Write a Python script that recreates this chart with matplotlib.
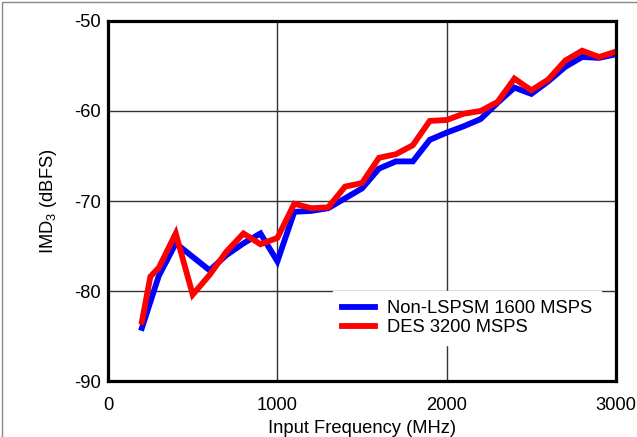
import matplotlib
matplotlib.use("Agg")
import matplotlib.pyplot as plt
from matplotlib.patches import Rectangle

plt.rcParams['font.family'] = ['Liberation Sans', 'DejaVu Sans']
plt.rcParams['mathtext.fontset'] = 'custom'
plt.rcParams['mathtext.rm'] = 'Liberation Sans'
plt.rcParams['mathtext.it'] = 'Liberation Sans:italic'
plt.rcParams['axes.unicode_minus'] = False

# Non-LSPSM 1600 MSPS
freq_blue = [200, 300, 400, 500, 600, 700, 800, 900, 1000, 1100, 1200, 1300, 1400, 1500,
             1600, 1700, 1800, 1900, 2000, 2100, 2200, 2300, 2400, 2500, 2600, 2700, 2800,
             2900, 3000]
imd_blue = [-84.1, -78.3, -74.7, -76.2, -77.7, -76.0, -74.7, -73.6, -76.7, -71.2, -71.1,
            -70.8, -69.7, -68.6, -66.4, -65.6, -65.6, -63.2, -62.4, -61.7, -60.9, -59.1,
            -57.4, -58.1, -56.7, -55.1, -54.0, -54.1, -53.7]

# DES 3200 MSPS
freq_red = [200, 250, 300, 400, 500, 600, 700, 800, 900, 1000, 1100, 1200, 1300, 1400, 1500,
            1600, 1700, 1800, 1900, 2000, 2100, 2200, 2300, 2400, 2500, 2600, 2700, 2800,
            2900, 3000]
imd_red = [-83.4, -78.4, -77.4, -73.6, -80.4, -78.2, -75.6, -73.6, -74.8, -74.1, -70.3,
           -70.8, -70.7, -68.4, -68.0, -65.2, -64.8, -63.8, -61.1, -61.0, -60.3, -60.0,
           -59.0, -56.4, -57.7, -56.5, -54.4, -53.3, -54.0, -53.4]

labels = ["Non-LSPSM 1600 MSPS", "DES 3200 MSPS"]
xticks = [0, 1000, 2000, 3000]
yticks = [-90, -80, -70, -60, -50]

fs = 13.2

fig = plt.figure(figsize=(6.37, 4.37), dpi=100)
ax = fig.add_axes([0.1696, 0.128, 0.7975, 0.824])

ax.plot(freq_blue, imd_blue, color='#0000ff', lw=4.2, solid_joinstyle='miter', label=labels[0])
ax.plot(freq_red, imd_red, color='#ff0000', lw=4.2, solid_joinstyle='miter', label=labels[1])

ax.set_xlim(0, 3000)
ax.set_ylim(-90, -50)
ax.set_xticks(xticks)
ax.set_yticks(yticks)
ax.grid(True, color='#333333', lw=1)
ax.tick_params(length=0, labelsize=fs)
ax.tick_params(axis='x', pad=11.5)
ax.tick_params(axis='y', pad=5)
for s in ax.spines.values():
    s.set_linewidth(2.3)

# x label sits a bit lower, y label a bit further left
ax.set_xlabel('Input Frequency (MHz)', fontsize=fs, labelpad=4.5)
ax.set_ylabel('IMD$_{\\mathrm{3}}$ (dBFS)', fontsize=fs, labelpad=11)

leg = ax.legend(loc='center', bbox_to_anchor=(0.707, 0.174), fontsize=fs,
                frameon=True, fancybox=False, framealpha=1, edgecolor='white',
                handlelength=1.8, handletextpad=0.65, borderpad=0.5, labelspacing=0.1)

fig.patches.append(Rectangle((0.003, -0.1), 1.1, 1.095, transform=fig.transFigure,
                             fill=False, edgecolor='#888888', lw=1))

fig.savefig('out.png', dpi=100)
